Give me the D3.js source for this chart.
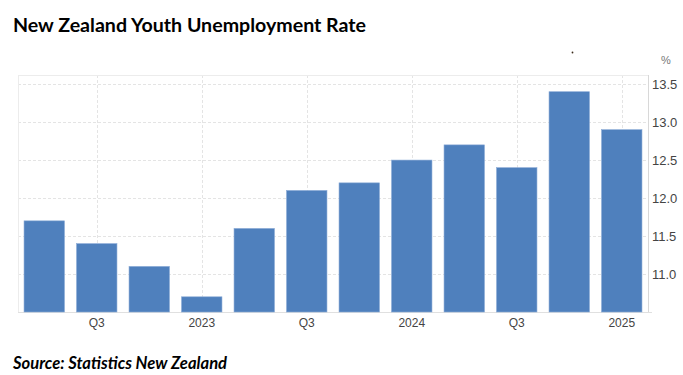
<!DOCTYPE html>
<html>
<head>
<meta charset="utf-8">
<title>New Zealand Youth Unemployment Rate</title>
<style>
  body { margin: 0; background: #fff; }
  #chart { display: block; }
  .title { font-family: Lato, "Open Sans", sans-serif; font-weight: bold; font-size: 19.6px; fill: #000; }
  .source { font-family: Lato, "Open Sans", sans-serif; font-weight: bold; font-style: italic; font-size: 16.6px; fill: #000; }
  .axis text { font-family: "Liberation Sans", Arial, sans-serif; fill: #444; }
  .axis path, .axis line { display: none; }
  .grid line { stroke: #e4e4e4; stroke-dasharray: 3,2; }
</style>
</head>
<body>
<svg id="chart"></svg>
<script src="https://d3js.org/d3.v7.min.js"></script>
<script>
var quarters = ["2022Q2", "2022Q3", "2022Q4", "2023Q1", "2023Q2", "2023Q3",
                "2023Q4", "2024Q1", "2024Q2", "2024Q3", "2024Q4", "2025Q1"];
var rates = [11.7, 11.4, 11.1, 10.7, 11.6, 12.1, 12.2, 12.5, 12.7, 12.4, 13.4, 12.9];
var xTickLabels = {"2022Q3": "Q3", "2023Q1": "2023", "2023Q3": "Q3",
                   "2024Q1": "2024", "2024Q3": "Q3", "2025Q1": "2025"};
var yTicks = [11.0, 11.5, 12.0, 12.5, 13.0, 13.5];

var width = 683, height = 375;
var plotLeft = 18, plotRight = 648, plotTop = 75, plotBottom = 312;

var svg = d3.select("#chart").attr("width", width).attr("height", height);

var x = d3.scaleBand().domain(quarters).range([plotLeft, plotRight]).paddingInner(0.23).paddingOuter(0.115);
var y = d3.scaleLinear().domain([10.5, 13.62]).range([plotBottom, plotTop]);

// grid
var grid = svg.append("g").attr("class", "grid");
grid.selectAll(".h").data(yTicks).enter().append("line")
  .attr("x1", plotLeft).attr("x2", plotRight)
  .attr("y1", d => Math.round(y(d)) + 0.5).attr("y2", d => Math.round(y(d)) + 0.5);
grid.selectAll(".v").data(Object.keys(xTickLabels)).enter().append("line")
  .attr("x1", d => Math.round(x(d) + x.bandwidth() / 2) + 0.5)
  .attr("x2", d => Math.round(x(d) + x.bandwidth() / 2) + 0.5)
  .attr("y1", plotTop).attr("y2", plotBottom);

// frame
svg.append("line").attr("x1", plotLeft).attr("x2", plotRight).attr("y1", plotTop + 0.5).attr("y2", plotTop + 0.5)
  .attr("stroke", "#ececec");
svg.append("line").attr("x1", plotLeft + 0.5).attr("x2", plotLeft + 0.5).attr("y1", plotTop).attr("y2", plotBottom)
  .attr("stroke", "#ececec");
svg.append("line").attr("x1", plotRight + 0.5).attr("x2", plotRight + 0.5).attr("y1", plotTop).attr("y2", plotBottom)
  .attr("stroke", "#d8d8d8");
svg.append("line").attr("x1", plotLeft).attr("x2", plotRight + 4).attr("y1", plotBottom + 0.5).attr("y2", plotBottom + 0.5)
  .attr("stroke", "#e0e0e0");

// bars
svg.append("g").selectAll("rect").data(rates).enter().append("rect")
  .attr("x", (d, i) => x(quarters[i]))
  .attr("y", d => y(d))
  .attr("width", x.bandwidth())
  .attr("height", d => plotBottom - y(d))
  .attr("fill", "#4f80bd")
  .attr("stroke", "#8aaad6")
  .attr("stroke-width", 0.6);

// axes
var xAxis = d3.axisBottom(x)
  .tickValues(Object.keys(xTickLabels))
  .tickFormat(d => xTickLabels[d])
  .tickSize(0).tickPadding(5);
svg.append("g").attr("class", "axis").attr("transform", `translate(0,${plotBottom + 1})`)
  .call(xAxis)
  .selectAll("text").style("font-size", "12px");

var yAxis = d3.axisRight(y).tickValues(yTicks).tickFormat(d3.format(".1f")).tickSize(0).tickPadding(4);
svg.append("g").attr("class", "axis").attr("transform", `translate(${plotRight},0)`)
  .call(yAxis)
  .selectAll("text").style("font-size", "13px").attr("fill", "#333");

svg.append("text").attr("x", 666).attr("y", 64).attr("text-anchor", "middle")
  .style("font-family", "Liberation Sans, Arial, sans-serif").style("font-size", "11px")
  .attr("fill", "#777").text("%");

svg.append("circle").attr("cx", 572.5).attr("cy", 52.5).attr("r", 0.9).attr("fill", "#3a2a1a");

// titles
svg.append("text").attr("class", "title").attr("x", 13).attr("y", 32)
  .text("New Zealand Youth Unemployment Rate");
svg.append("text").attr("class", "source").attr("x", 13).attr("y", 369)
  .text("Source: Statistics New Zealand");
</script>
</body>
</html>
